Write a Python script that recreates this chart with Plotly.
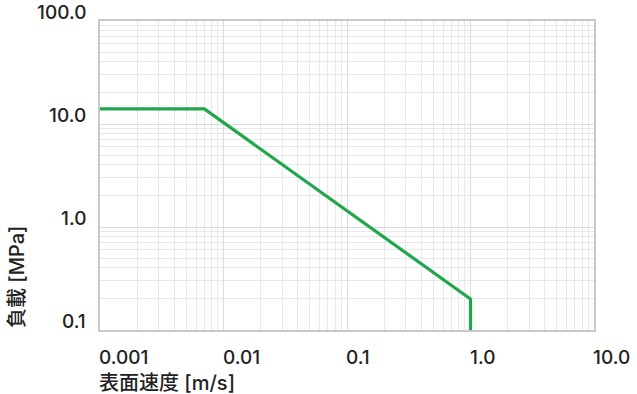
import plotly.graph_objects as go
import math

# Data
speed = [0.001, 0.007, 1.0, 1.0]      # m/s
load = [14.0, 14.0, 0.2, 0.1]         # MPa

x_tick_vals = [0.001, 0.01, 0.1, 1.0, 10.0]
x_tick_text = ["0.001", "0.01", "0.1", "1.0", "10.0"]
y_tick_vals = [0.1, 1.0, 10.0, 100.0]
y_tick_text = ["0.1", "1.0", "10.0", "100.0"]

x_title = "表面速度 [m/s]"
y_title = "負載 [MPa]"

FONT = "Inter, Liberation Sans, Noto Sans CJK JP, sans-serif"
TXT = "#222222"
FS = 19
FS_T = 20

fig = go.Figure()
fig.add_trace(go.Scatter(x=speed, y=load, mode="lines",
                         line=dict(color="#1fa84a", width=3.2),
                         hoverinfo="skip", showlegend=False))

axis_common = dict(
    type="log", showline=True, linecolor="#c8c8c8", linewidth=2, mirror=True,
    showgrid=True, gridcolor="#dcdcdc", gridwidth=1,
    minor=dict(showgrid=True, gridcolor="#e8e8e8", gridwidth=1, ticks=""),
    showticklabels=False, ticks="", zeroline=False, dtick=1,
)
fig.update_xaxes(range=[-3, 1], **axis_common)
fig.update_yaxes(range=[-1, 2], **axis_common)

fnt = dict(family=FONT, size=FS, color=TXT, weight=500)
fnt_t = dict(family=FONT, size=FS_T, color=TXT, weight=500)
annotations = []
for v, t in zip(x_tick_vals, x_tick_text):
    annotations.append(dict(x=math.log10(v), y=0, xref="x", yref="paper",
                            text=t, showarrow=False, xanchor="left", yanchor="top",
                            yshift=-14, xshift=-3, font=fnt))
for v, t in zip(y_tick_vals, y_tick_text):
    annotations.append(dict(x=0, y=math.log10(v), xref="paper", yref="y",
                            text=t, showarrow=False, xanchor="right", yanchor="bottom",
                            xshift=-12, yshift=-5, font=fnt))
annotations.append(dict(x=0, y=0, xref="paper", yref="paper", text=x_title,
                        showarrow=False, xanchor="left", yanchor="top",
                        yshift=-39, xshift=-3, font=fnt_t))
annotations.append(dict(x=0, y=0, xref="paper", yref="paper", text=y_title,
                        showarrow=False, xanchor="center", yanchor="bottom",
                        textangle=-90, xshift=-83, yshift=0, font=fnt_t))

fig.update_layout(
    width=637, height=394,
    margin=dict(l=100, r=43, t=21, b=64),
    paper_bgcolor="white", plot_bgcolor="white",
    annotations=annotations,
    font=dict(family=FONT, size=FS, color=TXT),
)

fig.write_html("out.html")
